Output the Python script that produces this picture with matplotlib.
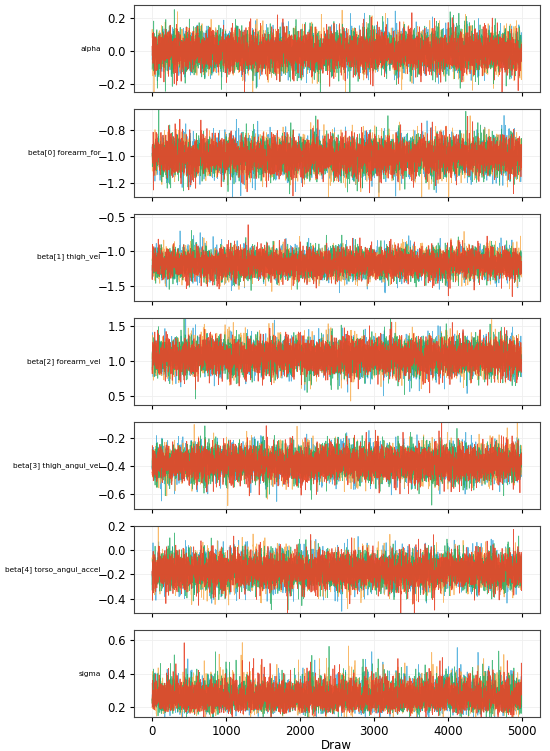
import numpy as np
import matplotlib.pyplot as plt

# parameter names and what the posterior looks like
param_names = ["alpha", "beta[0] forearm_for", "beta[1] thigh_vel",
               "beta[2] forearm_vel", "beta[3] thigh_angul_vel",
               "beta[4] torso_angul_accel", "sigma"]
post_means = [0.0, -1.0, -1.18, 1.06, -0.38, -0.17, 0.255]
post_sds = [0.055, 0.065, 0.10, 0.12, 0.06, 0.07, 0.045]
y_ticks = [[-0.2, 0.0, 0.2], [-1.2, -1.0, -0.8], [-1.5, -1.0, -0.5],
           [0.5, 1.0, 1.5], [-0.6, -0.4, -0.2], [-0.4, -0.2, 0.0, 0.2],
           [0.2, 0.4, 0.6]]
y_lims = [(-0.25, 0.28), (-1.3, -0.65), (-1.72, -0.45), (0.38, 1.62),
          (-0.71, -0.08), (-0.52, 0.2), (0.14, 0.66)]
chain_colors = ["#2a9fd6", "#f7a43b", "#19a85b", "#e8452a"]
n_draws = 5000
x_ticks = [0, 1000, 2000, 3000, 4000, 5000]

# the individual draws can't be read from a picture, so simulate chains
# with the same location/spread (seeded so the output is stable)
rng = np.random.default_rng(7)
draws = np.arange(n_draws)

fig, axes = plt.subplots(len(param_names), 1, figsize=(5.5, 7.51), sharex=True)
fig.subplots_adjust(left=0.243, right=0.982, top=0.993, bottom=0.045, hspace=0.195)

for i, ax in enumerate(axes):
    for c, col in enumerate(chain_colors):
        z = rng.standard_t(12, n_draws)
        z = np.convolve(z, [0.6, 0.3, 0.1], mode="same") / 0.68
        if param_names[i] == "sigma":
            vals = post_means[i] * np.exp(z * post_sds[i] / post_means[i])
        else:
            vals = post_means[i] + z * post_sds[i]
        ax.plot(draws, vals, color=col, lw=0.55, alpha=0.9 if c == 3 else 0.75)
    ax.set_yticks(y_ticks[i])
    ax.set_ylim(y_lims[i])
    ax.set_ylabel(param_names[i], rotation=0, fontsize=5.3, ha="right", va="center")
    ax.yaxis.set_label_coords(-0.081, 0.5)
    ax.grid(True, color="#efefef", lw=0.6)
    ax.set_axisbelow(True)
    ax.tick_params(labelsize=8.5, length=3, pad=2.5)
    for s in ax.spines.values():
        s.set_color("#444444")

axes[-1].set_xticks(x_ticks)
axes[-1].set_xlim(-250, 5250)
axes[-1].set_xlabel("Draw", fontsize=8.5, labelpad=1)

plt.savefig("out.png", dpi=100)
